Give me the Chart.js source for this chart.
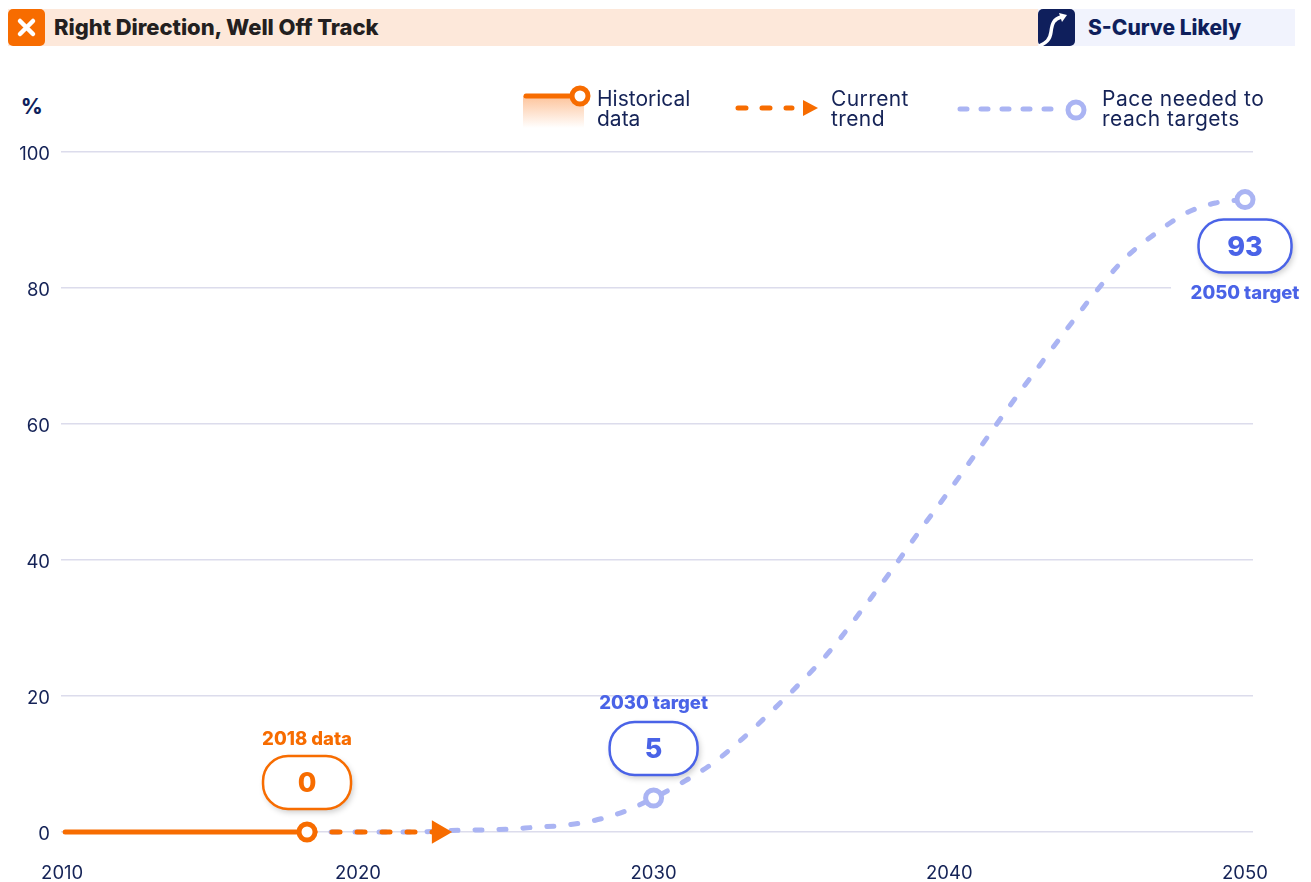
<!DOCTYPE html>
<html>
<head>
<meta charset="utf-8">
<title>Right Direction, Well Off Track</title>
<script src="https://cdn.jsdelivr.net/npm/chart.js@4/dist/chart.umd.min.js"></script>
<style>
    html, body { margin: 0; padding: 0; background: #fff; }
    body { width: 1311px; height: 882px; position: relative; overflow: hidden; font-family: Inter, sans-serif; }
    canvas { position: absolute; left: 0; top: 0; }
    .band { position: absolute; top: 9px; height: 37px; }
    .icon { position: absolute; top: 9px; width: 37px; height: 37px; border-radius: 5px; }
    .head { position: absolute; top: 9px; height: 37px; line-height: 37px; font-weight: 800; white-space: nowrap; }
    .legend { position: absolute; top: 89px; font-size: 21px; line-height: 20px; color: #152357; }
    .deco { position: absolute; left: 0; top: 0; }
</style>
</head>
<body>
<div class="band" style="left:8px;width:1030px;background:#fde8da"></div>
<div class="band" style="left:1038px;width:257px;background:#f1f3fd"></div>
<div class="icon" style="left:8px;background:#f76c00">
    <svg width="37" height="37"><path d="M12 12 L25 25 M25 12 L12 25" stroke="#fff" stroke-width="4.5" stroke-linecap="round"/></svg>
</div>
<div class="icon" style="left:1038px;background:#0f1f5c">
    <svg width="37" height="37"><path d="M1 37 C8 34 12 31 13 23 C14 14 16 10 23 8" fill="none" stroke="#fff" stroke-width="3.5"/><path d="M21 4 L29 6 L24 13 Z" fill="#fff"/></svg>
</div>
<div class="head" style="left:54px;font-size:22px;color:#231f20;letter-spacing:-0.05px">Right Direction, Well Off Track</div>
<div class="head" style="left:1088px;font-size:21px;color:#0f1f5c">S-Curve Likely</div>
<div class="head" style="left:21px;top:88px;font-size:21px;color:#0f1f5c">%</div>

<canvas id="chart" width="1311" height="882"></canvas>

<svg class="deco" width="1311" height="140">
    <defs>
        <linearGradient id="fade" x1="0" y1="0" x2="0" y2="1">
            <stop offset="0" stop-color="#fdc39a"/>
            <stop offset="1" stop-color="#ffffff"/>
        </linearGradient>
    </defs>
    <rect x="523" y="96" width="61" height="32" fill="url(#fade)"/>
    <line x1="526" y1="96" x2="574" y2="96" stroke="#f76c00" stroke-width="5" stroke-linecap="round"/>
    <circle cx="580" cy="96" r="8" fill="#fff" stroke="#f76c00" stroke-width="5"/>
    <line x1="738" y1="108" x2="792" y2="108" stroke="#f76c00" stroke-width="5" stroke-linecap="round" stroke-dasharray="8 16"/>
    <path d="M803 100 L818 108 L803 116 Z" fill="#f76c00"/>
    <line x1="960" y1="109" x2="1056" y2="109" stroke="#aab4f3" stroke-width="5" stroke-linecap="round" stroke-dasharray="7 14"/>
    <circle cx="1076" cy="110" r="8" fill="#fff" stroke="#aab4f3" stroke-width="5"/>
</svg>
<div class="legend" style="left:597px">Historical<br>data</div>
<div class="legend" style="left:831px;letter-spacing:0.4px">Current<br>trend</div>
<div class="legend" style="left:1102px;letter-spacing:0.5px">Pace needed to<br>reach targets</div>

<script>
const tickYears = [2010, 2020, 2030, 2040, 2050];
const tickPercents = [0, 20, 40, 60, 80, 100];

const historyYears = [2010.1, 2018.28];
const historyValues = [0, 0];

const trendYears = [2018.28, 2022.73];
const trendValues = [0, 0];

const paceYears = [2018.28, 2020, 2022, 2023, 2025, 2026, 2027, 2028, 2029, 2030, 2031, 2032, 2033, 2034, 2035,
    2036, 2037, 2038, 2039, 2040, 2041, 2042, 2043, 2044, 2045, 2046, 2047, 2048, 2049, 2050];
const paceValues = [0, 0, 0, 0.2, 0.4, 0.7, 1, 1.7, 3, 5, 7.35, 10.1, 13.7, 17.8, 22.1,
    26.8, 32.4, 38.2, 44.3, 50.2, 56.3, 62.4, 68.3, 74.1, 79.7, 84.6, 88.1, 91, 92.5, 93];

const calloutYears = [2018.28, 2030, 2050];
const calloutValues = [0, 5, 93];
const calloutCaptions = ['2018 data', '2030 target', '2050 target'];

const ORANGE = '#f76c00';
const BLUE = '#4a63e7';
const LAVENDER = '#aab4f3';
const NAVY = '#152357';
const FONT = 'Inter, sans-serif';

const toPoints = (xs, ys) => xs.map((x, i) => ({ x: x, y: ys[i] }));

// rounded value boxes and captions, placed from the chart's own scales
const calloutPlugin = {
    id: 'callouts',
    afterDatasetsDraw(chart) {
        const c = chart.ctx;
        calloutYears.forEach((year, i) => {
            const px = chart.scales.x.getPixelForValue(year);
            const py = chart.scales.y.getPixelForValue(calloutValues[i]);
            const color = i === 0 ? ORANGE : BLUE;
            const below = i === 2;
            const boxY = py + (below ? 46.5 : -49.5);
            const capY = py + (below ? 94 : (i === 0 ? -92.5 : -94.5));
            const w = below ? 93 : 88;
            const h = 53;

            c.save();
            if (below) {
                c.fillStyle = '#fff';
                c.fillRect(px - 74, capY - 12, 140, 24);
            }
            c.shadowColor = 'rgba(0,0,0,0.22)';
            c.shadowBlur = 6;
            c.shadowOffsetX = 2;
            c.shadowOffsetY = 3;
            c.beginPath();
            c.roundRect(px - w / 2, boxY - h / 2, w, h, 25);
            c.fillStyle = '#fff';
            c.fill();
            c.shadowColor = 'transparent';
            c.lineWidth = 2.5;
            c.strokeStyle = color;
            c.stroke();

            c.fillStyle = color;
            c.textAlign = 'center';
            c.textBaseline = 'middle';
            c.font = '800 27px ' + FONT;
            c.fillText(String(calloutValues[i]), px, boxY + 1.5);
            c.font = '800 18.5px ' + FONT;
            c.fillText(calloutCaptions[i], px, capY);
            c.restore();
        });
    }
};

const chart = new Chart(document.getElementById('chart').getContext('2d'), {
    type: 'line',
    data: {
        datasets: [
            {
                label: 'Historical data',
                data: toPoints(historyYears, historyValues),
                clip: false,
                borderColor: ORANGE,
                borderWidth: 5,
                borderCapStyle: 'round',
                pointBackgroundColor: '#fff',
                pointBorderColor: ORANGE,
                pointBorderWidth: 5,
                pointRadius: ctx => ctx.dataIndex === 1 ? 8 : 0
            },
            {
                label: 'Current trend',
                data: toPoints(trendYears, trendValues),
                clip: false,
                borderColor: ORANGE,
                borderWidth: 5,
                borderCapStyle: 'round',
                borderDash: [8, 17],
                pointStyle: 'triangle',
                pointRotation: 90,
                pointBackgroundColor: ORANGE,
                pointBorderColor: ORANGE,
                pointRadius: ctx => ctx.dataIndex === 1 ? 8.5 : 0
            },
            {
                label: 'Pace needed to reach targets',
                data: toPoints(paceYears, paceValues),
                clip: false,
                borderColor: LAVENDER,
                borderWidth: 5,
                borderCapStyle: 'round',
                borderDash: [7, 17],
                cubicInterpolationMode: 'monotone',
                pointBackgroundColor: '#fff',
                pointBorderColor: LAVENDER,
                pointBorderWidth: 5,
                pointRadius: ctx => {
                    const year = paceYears[ctx.dataIndex];
                    return year === 2030 || year === 2050 ? 8 : 0;
                }
            }
        ]
    },
    options: {
        responsive: false,
        animation: false,
        layout: { padding: { top: 152, right: 58, bottom: 0, left: 0 } },
        plugins: {
            legend: { display: false },
            tooltip: { enabled: false }
        },
        scales: {
            x: {
                type: 'linear',
                min: 2009.96,
                max: 2050.27,
                afterFit: s => { s.height = 50; },
                afterBuildTicks: s => { s.ticks = tickYears.map(v => ({ value: v })); },
                grid: { display: false },
                border: { display: false },
                ticks: {
                    maxRotation: 0,
                    autoSkip: false,
                    padding: 22,
                    color: NAVY,
                    font: { family: FONT, size: 18.5 },
                    callback: v => String(v)
                }
            },
            y: {
                min: 0,
                max: 100,
                afterFit: s => { s.width = 61; },
                afterBuildTicks: s => { s.ticks = tickPercents.map(v => ({ value: v })); },
                grid: { color: '#dcdcec', lineWidth: 1.5, drawTicks: false },
                border: { display: false },
                ticks: {
                    padding: 11,
                    labelOffset: 2,
                    color: NAVY,
                    font: { family: FONT, size: 18.5 }
                }
            }
        }
    },
    plugins: [calloutPlugin]
});
</script>
</body>
</html>
